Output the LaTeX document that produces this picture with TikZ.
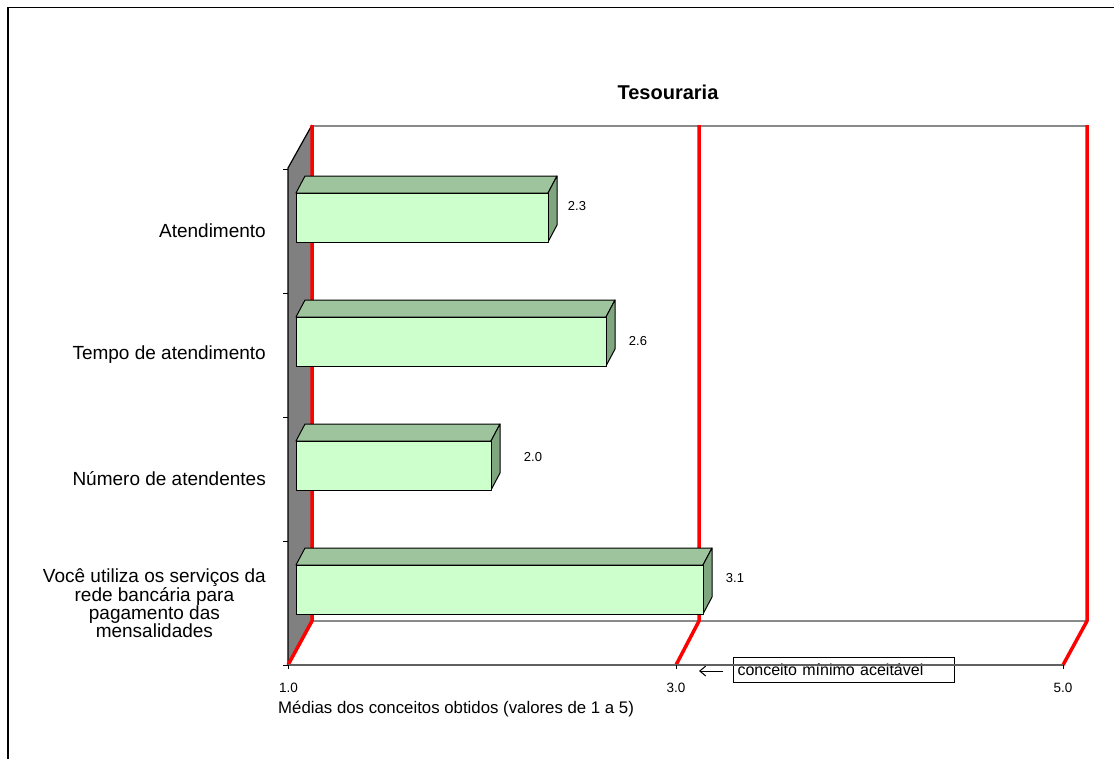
\documentclass[tikz,border=0pt]{standalone}
\usepackage{fontspec}
\setmainfont{Liberation Sans}
\usetikzlibrary{arrows.meta}
\definecolor{barfront}{HTML}{CCFFCC}
\definecolor{bartop}{HTML}{9DC49D}
\definecolor{barside}{HTML}{80A680}
\definecolor{wallgray}{HTML}{808080}
\definecolor{backline}{HTML}{8A8A8A}
\definecolor{axisline}{HTML}{606060}
\begin{document}
\begin{tikzpicture}[x=1pt,y=-1pt,
  catlabel/.style={anchor=east, align=center, font=\fontsize{19}{18}\selectfont, inner sep=0pt},
  vallabel/.style={font=\fontsize{13}{15}\selectfont, inner sep=0pt},
  ticklabel/.style={font=\fontsize{13.5}{15}\selectfont, inner sep=0pt},
  redline/.style={draw=red, line width=3.5pt},
  backgray/.style={draw=backline, line width=2pt},
  barface/.style={draw=black, line width=1pt, line join=round},
  tickmark/.style={draw=black, line width=1pt}]
\useasboundingbox (0,0) rectangle (1114,758);
\fill[white] (0,0) rectangle (1114,758);
% outer frame
\draw[line width=1.5pt] (8,762) -- (8,7.5) -- (1118,7.5);
% title
\node[font=\bfseries\fontsize{20}{22}\selectfont, inner sep=0pt] (title) at (668,92) {Tesouraria};
% left wall
\fill[wallgray] (288,665) -- (288,168) -- (312,125) -- (312,621) -- cycle;
\draw[black, line width=1.2pt] (288,665) -- (288,168) -- (312,125);
% back top line
\draw[backgray] (312,126) -- (1088,126);
% floor back line
\draw[backgray] (312,621) -- (1088,621);
% red grid lines
\foreach \bx/\fx in {312/288, 699/676, 1087/1063}{
  \draw[redline, line join=round] (\bx,125) -- (\bx,621) -- (\fx,665);
}
% left ticks
\foreach \ty in {169,293,417,541,665}{
  \draw[tickmark] (283,\ty) -- (288,\ty);
}
% bars
\foreach \t/\r in {193/548, 317/606, 441/491, 565/703}{
  \filldraw[barface, fill=bartop] (296,\t) -- (305,{\t-17}) -- ({\r+9},{\t-17}) -- (\r,\t) -- cycle;
  \filldraw[barface, fill=barside] (\r,\t) -- ({\r+9},{\t-17}) -- ({\r+9},{\t+32}) -- (\r,{\t+49}) -- cycle;
  \filldraw[barface, fill=barfront] (296,\t) rectangle (\r,{\t+49});
}
% value labels
\node[vallabel] (v1) at (577,206) {2.3};
\node[vallabel] (v2) at (638,341) {2.6};
\node[vallabel] (v3) at (533,457) {2.0};
\node[vallabel] (v4) at (735,578) {3.1};
% category labels
\node[catlabel] (c1) at (266,231) {Atendimento};
\node[catlabel] (c2) at (266,355) {Tempo de atendimento};
\node[catlabel] (c3) at (266,479) {Número de atendentes};
\node[catlabel] (c4) at (266,603) {Você utiliza os serviços da\\rede bancária para\\pagamento das\\mensalidades};
% annotation box
\node[draw=black, line width=1pt, anchor=north west, minimum width=221pt, minimum height=25pt,
      text width=213pt, inner xsep=4pt, inner ysep=0pt, align=left,
      font=\fontsize{16}{18}\selectfont] (box) at (733,657) {conceito mínimo aceitável};
\coordinate (arrS) at (723,671);
\coordinate (arrE) at (699,671);
\draw[line width=1pt, -{Straight Barb[length=6pt, width=10pt]}] (arrS) -- (arrE);
% front axis line
\draw[draw=axisline, line width=2.5pt] (288,665) -- (1063,665);
\foreach \tx in {288,676,1063}{
  \draw[tickmark] (\tx,665) -- (\tx,669);
}
% axis labels
\node[ticklabel] (x1) at (288.5,688) {1.0};
\node[ticklabel] (x3) at (676,688) {3.0};
\node[ticklabel] (x5) at (1063,688) {5.0};
\node[anchor=west, font=\fontsize{16.8}{18}\selectfont, inner sep=0pt] (xtitle) at (278,709) {Médias dos conceitos obtidos (valores de 1 a 5)};
\end{tikzpicture}
\end{document}
